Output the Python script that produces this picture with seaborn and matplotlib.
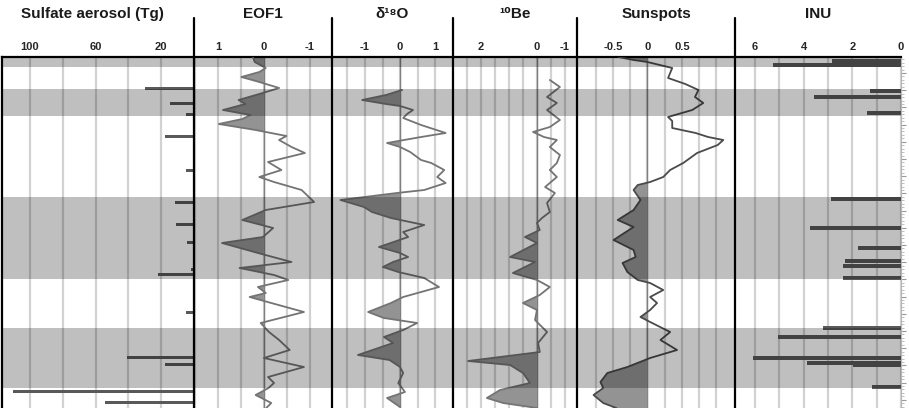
import numpy as np
import pandas as pd
import seaborn as sns
import matplotlib.pyplot as plt
from matplotlib.ticker import FixedLocator, FuncFormatter

# position = rows counted down from the top of the record (top = 0)
sulfate_pos = [31, 46, 57, 79, 113, 145, 167, 185, 212, 217, 255, 300, 307, 334, 345]
sulfate_tg = [30, 14.5, 5, 17.5, 5, 11.5, 11, 4, 2, 22, 5, 40.6, 17.6, 110, 54.5]

eof1_pos = [0, 5, 11, 15, 20, 25, 31, 37, 43, 47, 53, 58, 62, 67, 73, 79, 83, 90, 96, 105,
            113, 120, 125, 133, 145, 153, 163, 171, 180, 186, 196, 205, 211, 218, 223, 230,
            236, 240, 246, 255, 266, 275, 283, 293, 301, 310, 320, 326, 331, 338, 346, 351]
eof1 = [0.24, 0.2, -0.04, 0.1, 0.49, 0.1, -0.33, 0.1, 0.55, 0.4, 0.89, 0.29, 0.47, 0.98, 0.18,
        -0.49, -0.33, -0.6, -0.89, -0.09, -0.38, 0.1, -0.22, -0.82, -1.09, -0.04, 0.47, -0.2,
        0.02, 0.91, 0.13, -0.6, 0.53, -0.22, -0.53, 0.13, -0.04, 0.31, -0.16, -0.87, 0.07,
        -0.11, -0.33, -0.56, 0.0, -0.87, -0.09, -0.22, -0.1, 0.18, -0.16, -0.05]

d18o_pos = [33, 38, 43, 47, 49, 53, 57, 61, 68, 76, 80, 86, 90, 95, 103, 106, 113, 120, 126,
            133, 136, 143, 150, 155, 161, 168, 175, 180, 190, 196, 200, 205, 210, 215, 221,
            230, 240, 246, 255, 261, 266, 273, 280, 286, 298, 303, 310, 316, 326, 335, 341, 350]
d18o = [0.06, -0.4, -1.08, -0.4, 0.0, 0.37, 0.2, 0.09, 0.6, 1.3, 0.6, -0.37, 0.0, 0.29, 0.6,
        0.89, 1.26, 1.06, 1.3, 0.69, -0.09, -1.7, -1.03, -0.8, -0.26, 0.69, 0.09, 0.23, -0.6,
        0.0, 0.23, -0.2, -0.49, -0.05, 0.69, 1.11, 0.09, -0.26, -0.91, -0.46, 0.49, 0.09,
        -0.46, -0.2, -1.2, -0.3, 0.0, 0.09, -0.05, 0.14, -0.37, 0.0]

be10_pos = [23, 30, 40, 46, 53, 63, 70, 75, 80, 83, 90, 98, 106, 113, 120, 130, 136, 146, 155,
            161, 166, 173, 180, 186, 200, 205, 216, 223, 230, 238, 246, 253, 263, 275, 286,
            295, 300, 304, 308, 316, 326, 333, 341, 346, 351]
be10 = [-0.46, -0.82, -0.36, -0.71, -0.36, -0.82, -0.46, 0.14, -0.25, -0.71, -0.46, -0.82,
        -0.71, -0.46, -0.71, -0.29, -0.64, -0.36, -0.46, -0.18, 0.0, -0.1, 0.43, 0.0, 0.96,
        0.07, 0.86, 0.0, -0.46, -0.1, 0.5, 0.0, 0.07, -0.36, -0.04, -0.1, 1.32, 2.46, 0.96,
        0.5, 0.25, 1.32, 1.79, 1.21, 0.0]

sunspot_pos = [0, 3, 5, 11, 16, 21, 27, 33, 40, 46, 53, 60, 64, 71, 76, 80, 83, 88, 96, 106,
               113, 120, 125, 128, 133, 143, 153, 163, 170, 183, 193, 200, 206, 215, 223, 226,
               233, 240, 246, 253, 260, 265, 275, 283, 293, 301, 310, 316, 325, 331, 338, 346, 351]
sunspots = [-0.42, -0.2, 0.0, 0.36, 0.33, 0.3, 0.55, 0.74, 0.69, 0.81, 0.65, 0.3, 0.36, 0.36,
            0.7, 0.88, 1.1, 1.02, 0.72, 0.52, 0.33, 0.23, 0.04, -0.14, -0.2, -0.1, -0.2, -0.43,
            -0.2, -0.49, -0.2, -0.17, -0.36, -0.29, -0.14, 0.04, 0.23, 0.04, 0.14, 0.04, -0.1,
            0.04, 0.33, 0.19, 0.43, 0.04, -0.29, -0.58, -0.68, -0.64, -0.78, -0.64, -0.45]

inu_pos = [4, 6, 8, 34, 40, 56, 142, 171, 191, 204, 209, 221, 271, 280, 301, 306, 308, 330]
inu = [2.84, 2.84, 5.27, 1.28, 3.6, 1.4, 2.88, 3.74, 1.77, 2.3, 2.39, 2.39, 3.2, 5.06, 6.1,
       3.87, 1.98, 1.19]

band_top = [0, 32, 140, 271]
band_bottom = [10, 59, 222, 331]

panels = [
    dict(title='Sulfate aerosol (Tg)', xlim=(117, 0), grid=[0, 20, 40, 60, 80, 100],
         labels={100: '100', 60: '60', 20: '20'}),
    dict(title='EOF1', xlim=(1.52, -1.48), grid=np.arange(-1.0, 1.51, 0.5),
         labels={1: '1', 0: '0', -1: '-1'}),
    dict(title='δ¹⁸O', xlim=(-1.94, 1.51), grid=np.arange(-1.5, 1.51, 0.5),
         labels={-1: '-1', 0: '0', 1: '1'}),
    dict(title='¹⁰Be', xlim=(3.0, -1.43), grid=np.arange(-1.0, 2.51, 0.5),
         labels={2: '2', 0: '0', -1: '-1'}),
    dict(title='Sunspots', xlim=(-1.02, 1.27), grid=np.arange(-0.75, 1.01, 0.25),
         labels={-0.5: '-0.5', 0: '0', 0.5: '0.5'}),
    dict(title='INU', xlim=(6.83, 0), grid=[0, 1, 2, 3, 4, 5, 6],
         labels={6: '6', 4: '4', 2: '2', 0: '0'}),
]

sns.set_theme(style="white")
plt.rcParams['font.family'] = ['Liberation Sans', 'DejaVu Sans']

W, H = 909, 408
fig = plt.figure(figsize=(W / 100, H / 100), dpi=100)
edges = [2, 194, 332, 453, 577, 735, 901]
top_px = 57
axes = []
for i in range(6):
    ax = fig.add_axes([edges[i] / W, 0, (edges[i + 1] - edges[i]) / W, (H - top_px) / H])
    axes.append(ax)


def make_fmt(labels):
    def f(v, _):
        for k, s in labels.items():
            if abs(v - k) < 1e-6:
                return s
        return ''
    return f


def curve(ax, pos, val, side, col):
    df = pd.DataFrame({'pos': pos, 'val': val})
    p = np.array(pos, dtype=float)
    v = np.array(val, dtype=float)
    where = v > 0 if side == 'pos' else v < 0
    ax.fill_betweenx(p, v, 0, where=where, interpolate=True, color='#939393', lw=0, zorder=2)
    ax.axvline(0, color='#7f7f7f', lw=1.0, zorder=1.8)
    sns.lineplot(data=df, x='val', y='pos', orient='y', estimator=None, color=col, lw=1.3,
                 ax=ax, zorder=3)


# sulfate bars
axes[0].barh(sulfate_pos, sulfate_tg, height=3, color='#595959', lw=0, zorder=2)
curve(axes[1], eof1_pos, eof1, 'pos', '#747474')
curve(axes[2], d18o_pos, d18o, 'neg', '#747474')
curve(axes[3], be10_pos, be10, 'pos', '#747474')
curve(axes[4], sunspot_pos, sunspots, 'neg', '#4a4a4a')
axes[5].barh(inu_pos, inu, height=3.2, color='#595959', lw=0, zorder=2)

ext = 1 + (top_px - 18) / (H - top_px)
for i, (ax, cfg) in enumerate(zip(axes, panels)):
    ax.set_xlim(*cfg['xlim'])
    ax.set_ylim(H - top_px, 0)
    ax.set_xlabel('')
    ax.set_ylabel('')
    ax.xaxis.tick_top()
    ax.xaxis.set_major_locator(FixedLocator(cfg['grid']))
    ax.xaxis.set_major_formatter(FuncFormatter(make_fmt(cfg['labels'])))
    ax.tick_params(axis='x', length=0, pad=3.5, labelsize=8)
    for lab in ax.get_xticklabels():
        lab.set_fontweight('bold')
    ax.grid(axis='x', color='#d2d2d2', lw=1.6, zorder=1)
    ax.grid(axis='y', visible=False)
    ax.set_axisbelow(True)
    for s in ['bottom', 'left', 'right']:
        ax.spines[s].set_visible(False)
    ax.spines['top'].set_color('black')
    ax.spines['top'].set_linewidth(1.6)
    ax.set_yticks([])
    for a, b in zip(band_top, band_bottom):
        ax.axhspan(a, b, color='black', alpha=0.25, lw=0, zorder=5)
    if i == 0:
        ax.spines['left'].set_visible(True)
        ax.spines['left'].set_color('black')
        ax.spines['left'].set_linewidth(1.6)
    else:
        ax.plot([0, 0], [0, ext], transform=ax.transAxes, color='black', lw=1.6,
                clip_on=False, zorder=6)
    xt = 0.47 if i == 0 else 0.5
    ax.text(xt, 1 + 43 / (H - top_px), cfg['title'], transform=ax.transAxes, ha='center',
            va='center', fontsize=11, fontweight='bold', color='#1a1a1a')

# right-hand age axis (labels fall outside the crop)
inu_ax = axes[5]
inu_ax.spines['right'].set_visible(True)
inu_ax.spines['right'].set_color('#b5b5b5')
inu_ax.spines['right'].set_linewidth(0.8)
inu_ax.yaxis.tick_right()
inu_ax.yaxis.set_major_locator(FixedLocator(np.arange(16, 351, 17.2)))
inu_ax.yaxis.set_minor_locator(FixedLocator(np.arange(2.24, 351, 3.44)))
inu_ax.yaxis.set_major_formatter(FuncFormatter(lambda v, _: ''))
inu_ax.tick_params(axis='y', which='major', direction='out', length=3.5, width=0.8,
                   color='#9a9a9a')
inu_ax.tick_params(axis='y', which='minor', direction='out', length=2, width=0.6,
                   color='#b5b5b5')

fig.savefig('out.png', dpi=100)
